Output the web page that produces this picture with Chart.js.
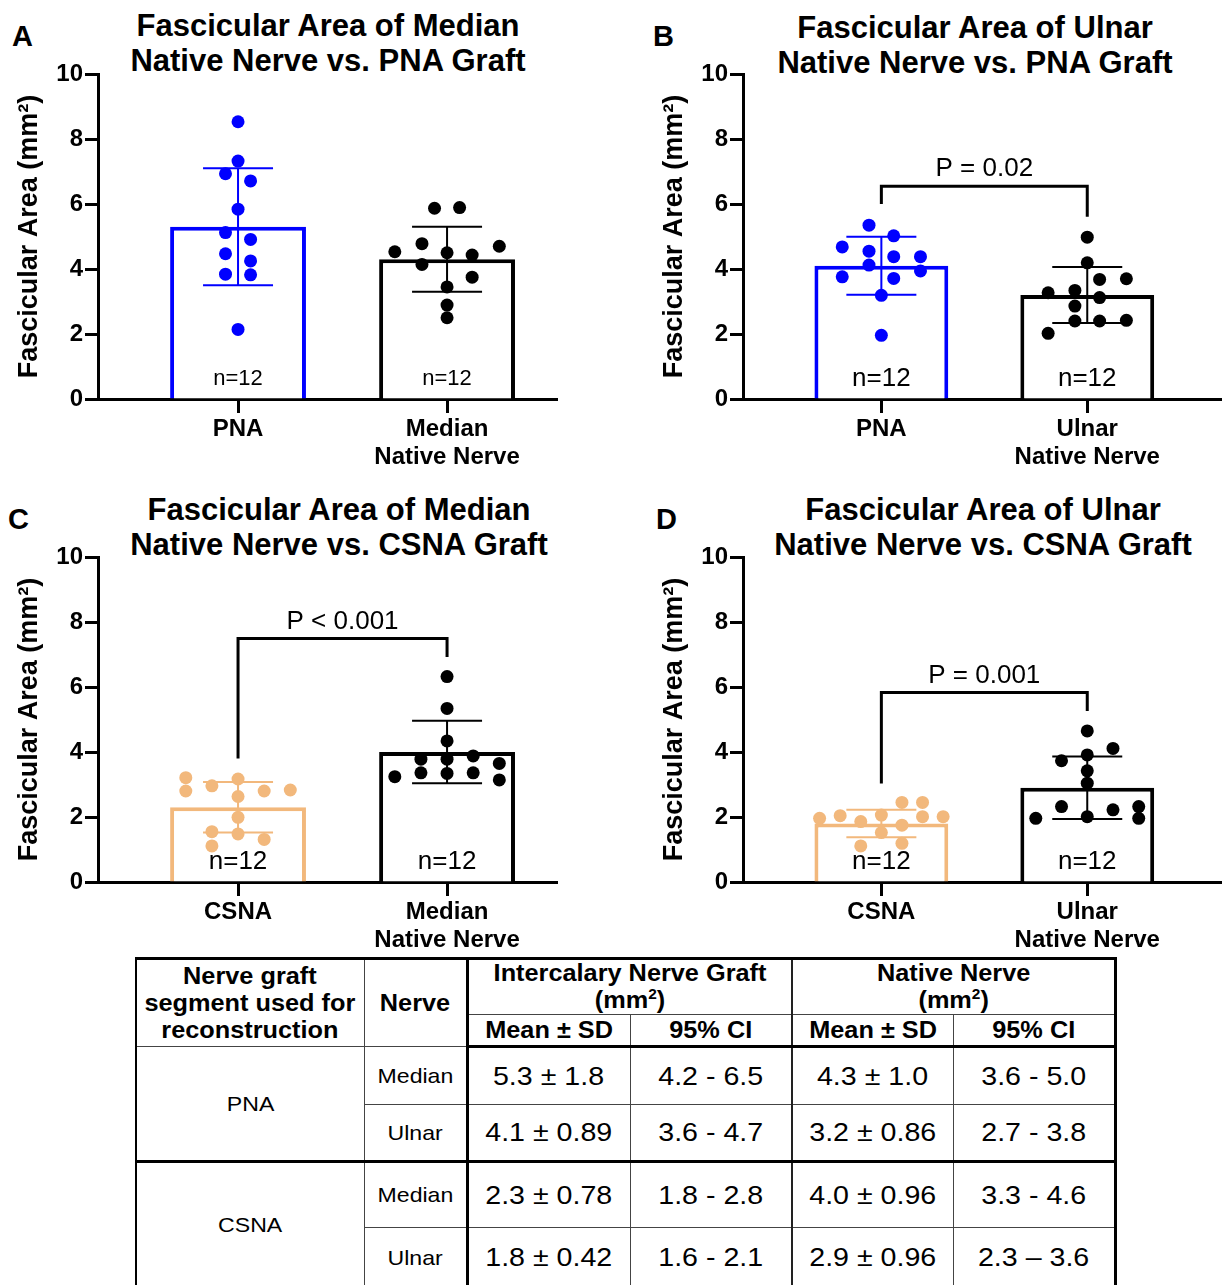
<!DOCTYPE html>
<html lang="en">
<head>
<meta charset="utf-8">
<title>Fascicular area of native nerve vs. graft</title>
<script src="https://cdn.jsdelivr.net/npm/chart.js@4.4.1/dist/chart.umd.min.js"></script>
<style>
  html, body { margin: 0; padding: 0; background: #fff; }
  body { position: relative; width: 1228px; height: 1285px; overflow: hidden;
         font-family: 'Liberation Sans', Arial, Helvetica, sans-serif; color: #000; }
  .panel { position: absolute; }
  .letter { position: absolute; font-size: 29px; line-height: 29px; font-weight: bold; }
  .title { position: absolute; width: 640px; text-align: center; font-size: 31px;
           line-height: 35px; font-weight: bold; white-space: nowrap; }
  #stats { position: absolute; left: 135px; top: 957px; width: 979px;
           border-collapse: collapse; table-layout: fixed; }
  #stats th, #stats td { padding: 0; text-align: center; vertical-align: middle;
           border: 1px solid #444; white-space: nowrap; overflow: hidden; }
  #stats th { font-size: 23px; line-height: 27px; font-weight: bold; }
  #stats td { font-size: 26px; font-weight: normal; }
  #stats td.lbl { font-size: 21px; }
  #stats sup { font-size: 14px; line-height: 0; vertical-align: 9px; }
  .sx { display: inline-block; transform: scaleX(1.1); }
  #stats tr.h1 { height: 56px; }
  #stats tr.h2 { height: 32px; }
  #stats tr.h1 th { border-top: 3px solid #000; }
  #stats tr.h2 th { border-bottom: 3px solid #000; }
  #stats th.first, #stats td.first { border-left: 2px solid #000; }
  #stats .last { border-right: 3px solid #000; }
  #stats .c3 { border-left: 3px solid #000; }
  #stats .c5 { border-left: 2px solid #222; }
  #stats .blockEnd { border-bottom: 3px solid #000; }
</style>
</head>
<body>

<div class="letter" style="left:12px; top:22px;">A</div>
<div class="letter" style="left:653px; top:22px;">B</div>
<div class="letter" style="left:8px; top:505px;">C</div>
<div class="letter" style="left:656px; top:505px;">D</div>

<div class="title" style="left:8px; top:8px;">Fascicular Area of Median<br>Native Nerve vs. PNA Graft</div>
<div class="title" style="left:655px; top:10px;">Fascicular Area of Ulnar<br>Native Nerve vs. PNA Graft</div>
<div class="title" style="left:19px; top:492px;">Fascicular Area of Median<br>Native Nerve vs. CSNA Graft</div>
<div class="title" style="left:663px; top:492px;">Fascicular Area of Ulnar<br>Native Nerve vs. CSNA Graft</div>

<div class="panel" style="left:0; top:0; width:614px; height:480px;"><canvas id="chartA"></canvas></div>
<div class="panel" style="left:614px; top:0; width:614px; height:480px;"><canvas id="chartB"></canvas></div>
<div class="panel" style="left:0; top:480px; width:614px; height:475px;"><canvas id="chartC"></canvas></div>
<div class="panel" style="left:614px; top:480px; width:614px; height:475px;"><canvas id="chartD"></canvas></div>

<table id="stats">
  <colgroup>
    <col style="width:228px"><col style="width:103px"><col style="width:163px">
    <col style="width:162px"><col style="width:161px"><col style="width:162px">
  </colgroup>
  <thead>
    <tr class="h1">
      <th class="first" rowspan="2" style="border-bottom:1px solid #444"><span class="sx">Nerve graft<br>segment used for<br>reconstruction</span></th>
      <th rowspan="2" style="border-bottom:1px solid #444"><span class="sx">Nerve</span></th>
      <th class="c3" colspan="2"><span class="sx">Intercalary Nerve Graft<br>(mm<sup>2</sup>)</span></th>
      <th class="c5 last" colspan="2"><span class="sx">Native Nerve<br>(mm<sup>2</sup>)</span></th>
    </tr>
    <tr class="h2">
      <th class="c3"><span class="sx">Mean ± SD</span></th>
      <th><span class="sx">95% CI</span></th>
      <th class="c5"><span class="sx">Mean ± SD</span></th>
      <th class="last"><span class="sx">95% CI</span></th>
    </tr>
  </thead>
  <tbody></tbody>
</table>

<script>
// ---------- data ----------
const categoriesA = ['PNA', ['Median', 'Native Nerve']];
const categoriesB = ['PNA', ['Ulnar', 'Native Nerve']];
const categoriesC = ['CSNA', ['Median', 'Native Nerve']];
const categoriesD = ['CSNA', ['Ulnar', 'Native Nerve']];
const yTicks = [0, 2, 4, 6, 8, 10];

// individual specimens (mm²); *X = horizontal scatter offset around the bar centre
const pnaMedianY = [8.53, 7.32, 6.93, 6.71, 5.84, 5.12, 4.91, 4.47, 4.25, 3.84, 3.82, 2.14];
const pnaMedianX = [0, 0, -0.06, 0.06, 0, -0.06, 0.06, -0.06, 0.06, -0.06, 0.06, 0];
const medianNativeAY = [5.87, 5.89, 4.53, 4.78, 4.50, 4.43, 4.70, 4.14, 3.75, 3.45, 2.89, 2.50];
const medianNativeAX = [-0.06, 0.06, -0.25, -0.12, 0, 0.12, 0.25, -0.12, 0.12, 0, 0, 0];

const pnaUlnarY = [5.35, 5.02, 4.68, 4.55, 4.38, 4.38, 4.12, 3.94, 3.76, 3.71, 3.19, 1.96];
const pnaUlnarX = [-0.06, 0.06, -0.19, -0.06, 0.06, 0.19, -0.06, 0.19, -0.19, 0.06, 0, 0];
const ulnarNativeBY = [4.98, 4.19, 3.68, 3.70, 3.27, 3.34, 3.12, 2.86, 2.40, 2.40, 2.42, 2.02];
const ulnarNativeBX = [0, 0, 0.06, 0.19, -0.19, -0.06, 0.06, -0.06, -0.06, 0.06, 0.19, -0.19];

const csnaMedianY = [3.21, 2.80, 2.96, 3.17, 2.63, 2.80, 2.83, 1.99, 1.55, 1.48, 1.31, 1.11];
const csnaMedianX = [-0.25, -0.25, -0.125, 0, 0, 0.125, 0.25, 0, -0.125, 0, 0.125, -0.125];
const medianNativeCY = [6.32, 5.34, 4.34, 3.78, 3.78, 3.88, 3.65, 3.24, 3.36, 3.34, 3.36, 3.14];
const medianNativeCX = [0, 0, 0, -0.125, 0, 0.125, 0.25, -0.25, -0.125, 0, 0.125, 0.25];

const csnaUlnarY = [1.96, 2.04, 1.86, 2.06, 1.52, 2.45, 1.75, 2.45, 2.01, 2.01, 1.11, 1.19];
const csnaUlnarX = [-0.3, -0.2, -0.1, 0, 0, 0.1, 0.1, 0.2, 0.2, 0.3, -0.1, 0.1];
const ulnarNativeDY = [4.65, 4.11, 3.91, 3.73, 3.42, 3.04, 2.32, 2.22, 2.32, 1.96, 2.01, 1.96];
const ulnarNativeDX = [0, 0.125, 0, -0.125, 0, 0, -0.125, 0.125, 0.25, 0.25, 0, -0.25];

// summary table (rows: PNA-median, PNA-ulnar, CSNA-median, CSNA-ulnar)
const tableGrafts = ['PNA', 'CSNA'];
const tableNerves = ['Median', 'Ulnar'];
const graftMean = ['5.3', '4.1', '2.3', '1.8'];
const graftSd = ['1.8', '0.89', '0.78', '0.42'];
const graftCI = ['4.2 - 6.5', '3.6 - 4.7', '1.8 - 2.8', '1.6 - 2.1'];
const nativeMean = ['4.3', '3.2', '4.0', '2.9'];
const nativeSd = ['1.0', '0.86', '0.96', '0.96'];
const nativeCI = ['3.6 - 5.0', '2.7 - 3.8', '3.3 - 4.6', '2.3 – 3.6'];

// significance brackets per panel (A has none)
const bracketLevel = [null, 6.55, 7.49, 5.83];
const bracketLeft = [null, 6.0, 3.8, 3.03];
const bracketRight = [null, 5.61, 6.92, 5.26];
const pValueLabels = [null, 'P = 0.02', 'P < 0.001', 'P = 0.001'];

// ---------- table ----------
const tbody = document.querySelector('#stats tbody');
const rowHeights = [58, 57, 66, 60];
tableGrafts.forEach((g, gi) => {
    tableNerves.forEach((n, ni) => {
        const r = gi * tableNerves.length + ni;
        const end = ni === tableNerves.length - 1 && gi < tableGrafts.length - 1 ? ' blockEnd' : '';
        const tr = document.createElement('tr');
        tr.style.height = rowHeights[r] + 'px';
        let html = '';
        if (ni === 0) {
            const gEnd = gi < tableGrafts.length - 1 ? ' blockEnd' : '';
            html += `<td class="lbl first${gEnd}" rowspan="${tableNerves.length}"><span class="sx">${g}</span></td>`;
        }
        html += `<td class="lbl${end}"><span class="sx">${n}</span></td>`;
        html += `<td class="c3${end}"><span class="sx">${graftMean[r]} ± ${graftSd[r]}</span></td>`;
        html += `<td class="${end}"><span class="sx">${graftCI[r]}</span></td>`;
        html += `<td class="c5${end}"><span class="sx">${nativeMean[r]} ± ${nativeSd[r]}</span></td>`;
        html += `<td class="last${end}"><span class="sx">${nativeCI[r]}</span></td>`;
        tr.innerHTML = html;
        tbody.appendChild(tr);
    });
});

// ---------- charts ----------
const FONT = "'Liberation Sans', Arial, Helvetica, sans-serif";
const BLUE = '#0000ff';
const ORANGE = '#f2b87c';
Chart.defaults.font.family = FONT;
Chart.defaults.color = '#000';

const panels = [
    { id: 'chartA', cats: categoriesA, row: 0, color: BLUE,
      graftY: pnaMedianY, graftX: pnaMedianX, nativeY: medianNativeAY, nativeX: medianNativeAX,
      nSize: 22, yWidth: 98, padTop: 74, padRight: 57, xHeight: 81, xMin: -0.670, xMax: 1.526, titlePad: 13 },
    { id: 'chartB', cats: categoriesB, row: 1, color: BLUE,
      graftY: pnaUlnarY, graftX: pnaUlnarX, nativeY: ulnarNativeBY, nativeX: ulnarNativeBX,
      nSize: 26, yWidth: 129, padTop: 74, padRight: 0, xHeight: 81, xMin: -0.672, xMax: 1.652, titlePad: 44 },
    { id: 'chartC', cats: categoriesC, row: 2, color: ORANGE,
      graftY: csnaMedianY, graftX: csnaMedianX, nativeY: medianNativeCY, nativeX: medianNativeCX,
      nSize: 26, yWidth: 98, padTop: 77, padRight: 57, xHeight: 73, xMin: -0.670, xMax: 1.526, titlePad: 13 },
    { id: 'chartD', cats: categoriesD, row: 3, color: ORANGE,
      graftY: csnaUlnarY, graftX: csnaUlnarX, nativeY: ulnarNativeDY, nativeX: ulnarNativeDX,
      nSize: 26, yWidth: 129, padTop: 77, padRight: 0, xHeight: 73, xMin: -0.672, xMax: 1.652, titlePad: 44 }
];

// error bars (mean ± SD), n labels and significance bracket
const annotations = {
    id: 'annotations',
    afterDatasetDraw(chart, args, opts) {
        if (args.meta.type !== 'bar') return;
        const { ctx } = chart;
        const xs = chart.scales.x, ys = chart.scales.y;
        opts.means.forEach((m, i) => {
            const cx = xs.getPixelForValue(i);
            const top = ys.getPixelForValue(m + opts.sds[i]);
            const bot = ys.getPixelForValue(m - opts.sds[i]);
            ctx.save();
            ctx.strokeStyle = opts.colors[i];
            ctx.lineWidth = 2;
            ctx.beginPath();
            ctx.moveTo(cx, top); ctx.lineTo(cx, bot);
            ctx.moveTo(cx - 35, top); ctx.lineTo(cx + 35, top);
            ctx.moveTo(cx - 35, bot); ctx.lineTo(cx + 35, bot);
            ctx.stroke();
            ctx.restore();
        });
    },
    afterDatasetsDraw(chart, args, opts) {
        const { ctx, chartArea } = chart;
        const xs = chart.scales.x, ys = chart.scales.y;
        ctx.save();
        ctx.fillStyle = '#000';
        ctx.textAlign = 'center';
        ctx.textBaseline = 'middle';
        ctx.font = `${opts.nSize}px ${FONT}`;
        opts.nLabels.forEach((t, i) => ctx.fillText(t, xs.getPixelForValue(i), chartArea.bottom - 20));

        const k = opts.panel;
        if (bracketLevel[k] !== null) {
            const x0 = xs.getPixelForValue(0), x1 = xs.getPixelForValue(1);
            const yl = ys.getPixelForValue(bracketLevel[k]);
            ctx.strokeStyle = '#000';
            ctx.lineWidth = 3;
            ctx.lineJoin = 'miter';
            ctx.beginPath();
            ctx.moveTo(x0, ys.getPixelForValue(bracketLeft[k]));
            ctx.lineTo(x0, yl);
            ctx.lineTo(x1, yl);
            ctx.lineTo(x1, ys.getPixelForValue(bracketRight[k]));
            ctx.stroke();
            ctx.font = `26px ${FONT}`;
            ctx.fillText(pValueLabels[k], (x0 + x1) / 2, yl - 17);
        }
        ctx.restore();
    }
};

panels.forEach((p, k) => {
    const means = [parseFloat(graftMean[p.row]), parseFloat(nativeMean[p.row])];
    const sds = [parseFloat(graftSd[p.row]), parseFloat(nativeSd[p.row])];
    const colors = [p.color, '#000'];

    new Chart(document.getElementById(p.id), {
        type: 'bar',
        data: {
            datasets: [
                {
                    type: 'bar',
                    data: means.map((m, i) => ({ x: i, y: m })),
                    backgroundColor: '#fff',
                    borderColor: colors,
                    borderWidth: 4,
                    borderSkipped: 'start',
                    categoryPercentage: 1,
                    barPercentage: 0.65,
                    order: 3
                },
                {
                    type: 'scatter',
                    data: p.graftY.map((v, i) => ({ x: 0 + p.graftX[i], y: v })),
                    backgroundColor: p.color,
                    borderWidth: 0,
                    pointRadius: 6.5,
                    order: 1
                },
                {
                    type: 'scatter',
                    data: p.nativeY.map((v, i) => ({ x: 1 + p.nativeX[i], y: v })),
                    backgroundColor: '#000',
                    borderWidth: 0,
                    pointRadius: 6.5,
                    order: 1
                }
            ]
        },
        options: {
            responsive: true,
            maintainAspectRatio: false,
            animation: false,
            devicePixelRatio: 1,
            events: [],
            layout: { padding: { top: p.padTop, right: p.padRight, bottom: 0, left: 0 } },
            plugins: {
                legend: { display: false },
                tooltip: { enabled: false },
                annotations: {
                    panel: k,
                    means, sds, colors,
                    nSize: p.nSize,
                    nLabels: [p.graftY, p.nativeY].map(a => 'n=' + a.length)
                }
            },
            scales: {
                x: {
                    type: 'linear',
                    min: p.xMin,
                    max: p.xMax,
                    offset: false,
                    afterBuildTicks: s => { s.ticks = p.cats.map((c, i) => ({ value: i })); },
                    afterFit: s => { s.height = p.xHeight; },
                    ticks: {
                        callback: v => p.cats[v],
                        autoSkip: false,
                        maxRotation: 0,
                        minRotation: 0,
                        padding: 2,
                        color: '#000',
                        font: { size: 24, weight: 'bold', lineHeight: 1.19 }
                    },
                    grid: { display: true, offset: false, drawOnChartArea: false, drawTicks: true,
                            tickLength: 14, tickWidth: 3, tickColor: '#000' },
                    border: { display: true, color: '#000', width: 3 }
                },
                y: {
                    min: 0,
                    max: 10,
                    afterBuildTicks: s => { s.ticks = yTicks.map(v => ({ value: v })); },
                    afterFit: s => { s.width = p.yWidth; },
                    ticks: { padding: 2, color: '#000', font: { size: 24, weight: 'bold' } },
                    grid: { display: true, drawOnChartArea: false, drawTicks: true,
                            tickLength: 13, tickWidth: 3, tickColor: '#000' },
                    border: { display: true, color: '#000', width: 3 },
                    title: {
                        display: true,
                        text: 'Fascicular Area (mm²)',
                        color: '#000',
                        font: { size: 27, weight: 'bold' },
                        padding: { top: p.titlePad, bottom: 0 }
                    }
                }
            }
        },
        plugins: [annotations]
    });
});
</script>
</body>
</html>
